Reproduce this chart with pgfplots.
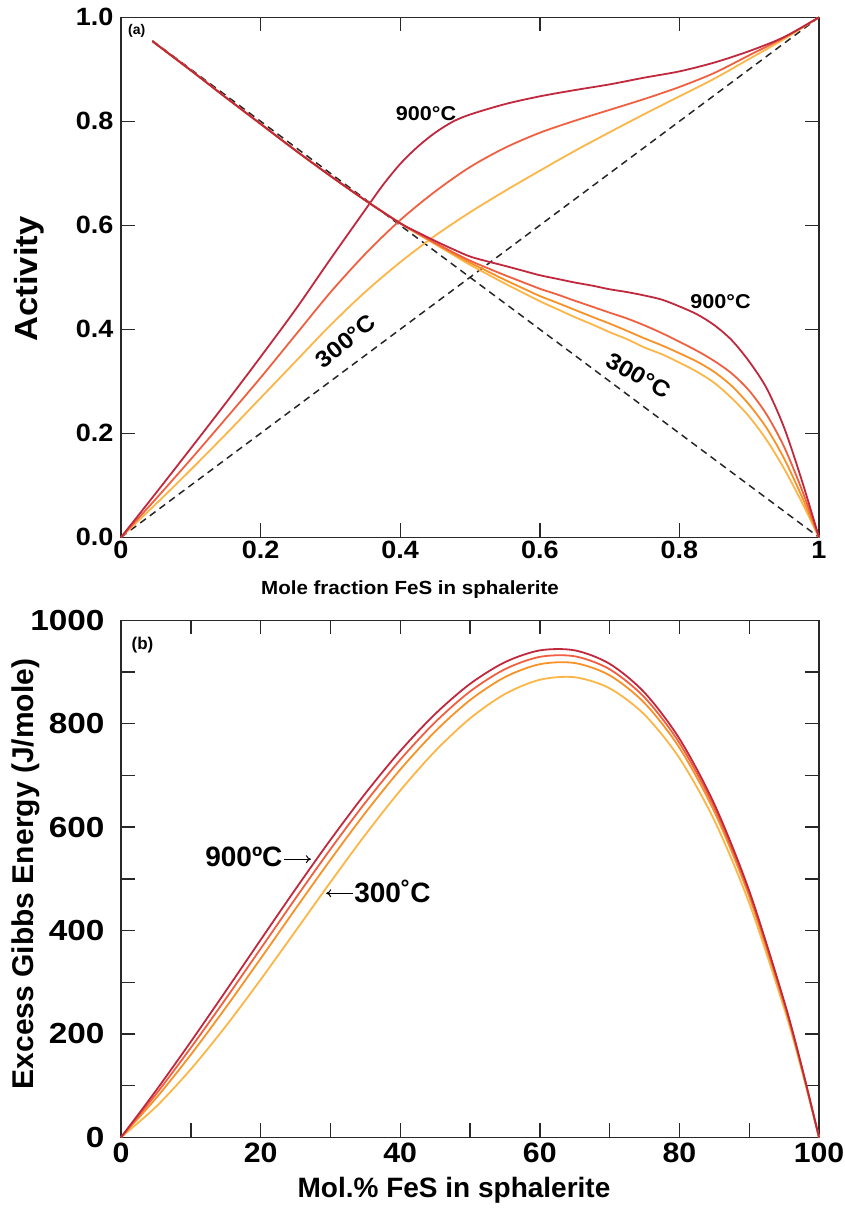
\documentclass[border=0pt]{standalone}
\usepackage{fontspec}
\setmainfont{Liberation Sans}
\newfontfamily\wide{Liberation Sans}[FakeStretch=1.08]
\newfontfamily\wider{Liberation Sans}[FakeStretch=1.15]
\usepackage{pgfplots}
\pgfplotsset{compat=1.18}
\usetikzlibrary{arrows.meta}
\definecolor{cA}{RGB}{192,40,62}
\definecolor{cB}{RGB}{240,96,64}
\definecolor{cC}{RGB}{246,146,40}
\definecolor{cD}{RGB}{252,182,72}
\definecolor{axc}{RGB}{40,40,40}
\pgfplotsset{
  myaxis/.style={
    scale only axis,
    axis line style={line width=1.6pt, axc},
    tick style={line width=1.4pt, axc},
    tick align=inside,
    major tick length=14pt,
    minor tick length=14pt,
    clip=false,
  },
  curve/.style={line width=1.8pt, smooth, no markers},
}
\begin{document}
\begin{tikzpicture}
\path[use as bounding box] (0pt,0pt) rectangle (845pt,-1211pt);
% ---------------- panel (a)
\begin{axis}[myaxis,
  at={(121pt,-537.3pt)}, anchor=south west,
  width=698pt, height=520pt,
  xmin=0, xmax=1, ymin=0, ymax=1,
  xtick={0,0.2,0.4,0.6,0.8,1},
  xticklabels={0,0.2,0.4,0.6,0.8,1},
  ytick={0,0.2,0.4,0.6,0.8,1},
  yticklabels={0.0,0.2,0.4,0.6,0.8,1.0},
  tick label style={font=\wide\bfseries\fontsize{25}{25}\selectfont},
  yticklabel style={xshift=-4pt},
]
\addplot[black!85, line width=1.5pt, dash pattern=on 7pt off 5pt] coordinates {(0,0)(1,1)};
\addplot[black!85, line width=1.5pt, dash pattern=on 7pt off 5pt] coordinates {(0.045,0.955)(1,0)};
% rising (a_FeS)
\addplot[curve, cD] coordinates {(0,0)(0.05,0.064)(0.1,0.130)(0.15,0.198)(0.2,0.268)(0.25,0.338)(0.3,0.408)(0.35,0.472)(0.4,0.529)(0.45,0.58)(0.5,0.625)(0.55,0.666)(0.6,0.705)(0.65,0.743)(0.7,0.779)(0.75,0.814)(0.8,0.848)(0.85,0.882)(0.9,0.92)(0.95,0.958)(1,1)};
\addplot[curve, cB] coordinates {(0,0)(0.05,0.074)(0.1,0.150)(0.15,0.228)(0.2,0.307)(0.25,0.389)(0.3,0.471)(0.35,0.545)(0.4,0.610)(0.45,0.665)(0.5,0.712)(0.55,0.749)(0.6,0.778)(0.65,0.801)(0.7,0.822)(0.75,0.843)(0.8,0.866)(0.85,0.893)(0.9,0.927)(0.95,0.961)(1,1)};
\addplot[curve, cA] coordinates {(0,0)(0.05,0.085)(0.1,0.171)(0.15,0.258)(0.2,0.347)(0.25,0.438)(0.3,0.535)(0.35,0.630)(0.375,0.677)(0.4,0.718)(0.425,0.751)(0.45,0.778)(0.475,0.799)(0.5,0.813)(0.55,0.833)(0.6,0.848)(0.65,0.860)(0.7,0.871)(0.75,0.884)(0.8,0.896)(0.85,0.913)(0.9,0.935)(0.95,0.962)(1,1)};
% descending (a_ZnS)
\addplot[curve, cD] coordinates {(0.045,0.954)(0.1,0.898)(0.15,0.846)(0.2,0.795)(0.25,0.744)(0.3,0.695)(0.35,0.648)(0.4,0.604)(0.425,0.5836)(0.45,0.5638)(0.475,0.5439)(0.5,0.524)(0.525,0.5059)(0.55,0.488)(0.575,0.471)(0.6,0.454)(0.625,0.4388)(0.65,0.4235)(0.675,0.4095)(0.7,0.3945)(0.725,0.381)(0.75,0.365)(0.775,0.352)(0.8,0.336)(0.825,0.3185)(0.85,0.297)(0.875,0.2675)(0.9,0.232)(0.925,0.187)(0.95,0.132)(0.975,0.0685)(1,0)};
\addplot[curve, cC] coordinates {(0.045,0.954)(0.1,0.898)(0.15,0.846)(0.2,0.795)(0.25,0.744)(0.3,0.695)(0.35,0.648)(0.4,0.604)(0.425,0.584)(0.45,0.5649)(0.475,0.546)(0.5,0.528)(0.525,0.5116)(0.55,0.495)(0.575,0.4794)(0.6,0.464)(0.625,0.451)(0.65,0.4375)(0.675,0.424)(0.7,0.411)(0.725,0.397)(0.75,0.3825)(0.775,0.369)(0.8,0.354)(0.825,0.338)(0.85,0.318)(0.875,0.291)(0.9,0.255)(0.925,0.21)(0.95,0.1515)(0.975,0.0795)(1,0)};
\addplot[curve, cB] coordinates {(0.045,0.954)(0.1,0.898)(0.15,0.846)(0.2,0.795)(0.25,0.744)(0.3,0.695)(0.35,0.648)(0.4,0.604)(0.425,0.585)(0.45,0.5665)(0.475,0.5486)(0.5,0.532)(0.525,0.5178)(0.55,0.504)(0.575,0.491)(0.6,0.478)(0.625,0.467)(0.65,0.455)(0.675,0.4436)(0.7,0.432)(0.725,0.4208)(0.75,0.4075)(0.775,0.3926)(0.8,0.376)(0.825,0.3588)(0.85,0.339)(0.875,0.315)(0.9,0.282)(0.925,0.236)(0.95,0.174)(0.975,0.093)(1,0)};
\addplot[curve, cA] coordinates {(0.045,0.954)(0.1,0.898)(0.15,0.846)(0.2,0.795)(0.25,0.744)(0.3,0.695)(0.35,0.648)(0.4,0.604)(0.425,0.5865)(0.45,0.570)(0.475,0.5544)(0.5,0.540)(0.525,0.5306)(0.55,0.522)(0.575,0.513)(0.6,0.504)(0.625,0.497)(0.65,0.490)(0.675,0.484)(0.7,0.477)(0.725,0.4716)(0.75,0.465)(0.775,0.457)(0.8,0.444)(0.825,0.429)(0.85,0.408)(0.875,0.379)(0.9,0.338)(0.925,0.2865)(0.95,0.211)(0.975,0.111)(1,0)};
\node[font=\wide\bfseries\fontsize{20}{20}\selectfont] at (axis cs:0.437,0.815) {900°C};
\node[font=\wide\bfseries\fontsize{20}{20}\selectfont] at (axis cs:0.859,0.453) {900°C};
\node[font=\wide\bfseries\fontsize{23}{23}\selectfont, rotate=39] at (axis cs:0.322,0.377) {300°C};
\node[font=\wide\bfseries\fontsize{23}{23}\selectfont, rotate=-30] at (axis cs:0.742,0.311) {300°C};
\node[font=\bfseries\fontsize{14}{14}\selectfont] at (axis cs:0.0225,0.974) {(a)};
\end{axis}
\node[font=\wide\bfseries\fontsize{19}{19}\selectfont] at (410pt,-590pt) {Mole fraction FeS in sphalerite};
\node[font=\wide\bfseries\fontsize{32}{32}\selectfont, rotate=90] at (29pt,-279pt) {Activity};
% ---------------- panel (b)
\begin{axis}[myaxis,
  at={(121pt,-1137.3pt)}, anchor=south west,
  width=698pt, height=517pt,
  xmin=0, xmax=100, ymin=0, ymax=1000,
  xtick={0,10,...,100},
  xticklabels={0,,20,,40,,60,,80,,100},
  ytick={0,100,...,1000},
  yticklabels={0,,200,,400,,600,,800,,1000},
  xticklabel style={font=\wide\bfseries\fontsize{28}{28}\selectfont, yshift=-2pt},
  yticklabel style={font=\wider\bfseries\fontsize{29}{29}\selectfont, xshift=-13pt},
]
\addplot[curve, cD] coordinates {(0,0)(5,58.9)(10,131.6)(15,214.7)(20,304.9)(25,398.9)(30,493.4)(35,585.2)(40,670.7)(45,746.9)(50,810.2)(55,857.4)(60,885.0)(65,889.9)(70,868.5)(75,817.5)(80,733.5)(85,613.2)(90,453.1)(95,249.8)(97.5,130.9)(100,0)};
\addplot[curve, cC] coordinates {(0,0)(5,75.4)(10,159.8)(15,250.8)(20,345.6)(25,441.9)(30,536.7)(35,627.5)(40,711.2)(45,784.9)(50,845.6)(55,890.1)(60,915.1)(65,917.4)(70,893.6)(75,840.1)(80,753.5)(85,629.9)(90,465.7)(95,257.1)(97.5,134.8)(100,0)};
\addplot[curve, cB] coordinates {(0,0)(5,83.2)(10,173.2)(15,267.8)(20,364.8)(25,462.1)(30,557.2)(35,647.4)(40,730.3)(45,802.8)(50,862.3)(55,905.4)(60,929.3)(65,930.4)(70,905.4)(75,850.8)(80,762.8)(85,637.8)(90,471.7)(95,260.5)(97.5,136.7)(100,0)};
\addplot[curve, cA] coordinates {(0,0)(5,90.1)(10,184.9)(15,282.7)(20,381.8)(25,480.0)(30,575.2)(35,665.0)(40,747.1)(45,818.7)(50,877.0)(55,919.0)(60,941.8)(65,941.9)(70,915.9)(75,860.2)(80,771.1)(85,644.7)(90,476.9)(95,263.5)(97.5,138.3)(100,0)};
\node[font=\bfseries\fontsize{17}{17}\selectfont] at (axis cs:3.08,952) {(b)};
\node[anchor=west, inner sep=0pt, font=\bfseries\fontsize{28}{28}\selectfont] at (axis cs:12.05,542) {900ºC};
\draw[line width=1pt, -{To[length=5pt,width=8pt]}] (axis cs:23.4,538) -- (axis cs:27.2,538);
\draw[line width=1pt, -{To[length=5pt,width=8pt]}] (axis cs:33.2,472) -- (axis cs:29.4,472);
\node[anchor=west, inner sep=0pt, font=\bfseries\fontsize{28}{28}\selectfont] at (axis cs:33.4,475) {300˚C};
\end{axis}
\node[font=\bfseries\fontsize{28}{28}\selectfont] at (454pt,-1190pt) {Mol.\% FeS in sphalerite};
\node[font=\bfseries\fontsize{30}{30}\selectfont, rotate=90] at (26pt,-874pt) {Excess Gibbs Energy (J/mole)};
\end{tikzpicture}
\end{document}
